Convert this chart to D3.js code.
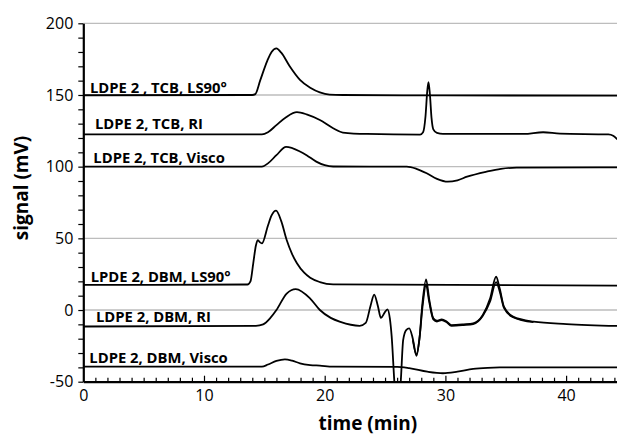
<!DOCTYPE html>
<html>
<head>
<meta charset="utf-8">
<script src="https://cdn.jsdelivr.net/npm/d3@7"></script>
<style>
	body { margin: 0; background: #fff; }
	text { font-family: "Open Sans", sans-serif; fill: #000; }
</style>
</head>
<body>
<div id="chart"></div>
<script>
// traces: [time (min), signal (mV)]
const tcbLS = [[0,149.8],[14.0,150],[14.25,150.6],[14.65,160],[15.25,174],[15.6,180],[16.0,182.5],[16.4,179.5],[17.1,170],[17.95,160.5],[18.8,155],[19.6,151.8],[20.4,150.3],[21.5,150],[30,149.7],[44.25,149.5]];
const tcbRI = [[0,122.5],[14.8,122.5],[15.3,124],[16.0,129],[16.8,134.5],[17.7,138],[18.5,136.5],[19.6,132.5],[20.7,126.8],[21.5,123.8],[23.5,122.8],[27.9,122.4],[28.15,124],[28.35,135],[28.5,153],[28.6,159],[28.72,150],[28.85,134],[29.0,126],[29.3,123.5],[29.8,122.8],[36.5,122.8],[38.1,124],[39.5,123],[43.5,122.5],[43.9,121.5],[44.25,119]];
const tcbVisco = [[0,100],[14.8,100],[15.3,102.3],[16.0,108],[16.8,113.8],[17.95,110.6],[18.5,108],[19.3,103.5],[20.0,101],[20.7,100.1],[26.8,100],[27.6,98.5],[28.45,95.4],[29.3,91.5],[30.2,89.5],[31.0,90.5],[31.8,93],[33.4,96.5],[34.6,98.5],[35.9,99.3],[44.25,99.5]];
const dbmLS = [[0,17.5],[13.6,17.8],[13.85,20],[14.08,32.6],[14.3,45],[14.45,48.8],[14.6,47.5],[14.8,46.5],[15.3,59],[15.6,66],[15.97,69.3],[16.4,62],[16.85,48.8],[17.3,39],[17.7,32.6],[18.3,26],[18.8,22.5],[19.6,19.5],[20.7,17.9],[44.25,17]];
const dbmRI = [[0,-11.5],[14.3,-11],[14.9,-10],[15.5,-5.5],[16.0,0],[16.85,11.5],[17.6,14.6],[18.8,8],[19.6,0],[20.5,-5.5],[21.3,-8.3],[22.9,-11],[23.4,-9],[23.8,3],[24.1,10.8],[24.4,3],[24.66,-5.5],[24.95,-2],[25.2,0.5],[25.4,-6],[25.55,-18.6],[25.77,-50],[26.0,-75],[26.3,-50],[26.5,-21],[26.75,-14],[27.0,-12.8],[27.3,-20],[27.6,-32],[27.85,-20],[28.1,5],[28.4,21.4],[28.65,8],[29.0,-5.8],[29.3,-7.5],[29.7,-6.5],[30.1,-8],[30.5,-10.5],[31.5,-10],[32.3,-9.3],[33.1,-3.5],[33.7,8],[34.2,23.2],[34.5,15],[34.85,2.3],[35.6,-4.6],[37.3,-8.1],[40.05,-9.8],[44.25,-11.1]];
const dbmRI2 = [[27.3,-21],[27.6,-31],[27.85,-20],[28.1,2],[28.4,17.5],[28.65,6],[29.0,-6.5],[29.3,-8],[29.7,-7],[30.1,-8.5],[30.5,-11],[31.5,-10.5],[32.3,-9.8],[33.1,-4],[33.7,6],[34.2,19.5],[34.5,13],[34.85,1.5],[35.6,-5],[37.3,-8.5]];
const dbmVisco = [[0,-39.5],[14.8,-39.5],[15.3,-38],[16.0,-35.5],[16.7,-34.4],[17.3,-35.3],[17.95,-37.2],[18.8,-38.4],[19.6,-38.8],[20.7,-39.5],[26.0,-39.6],[27.0,-40.5],[28.5,-43],[29.8,-44.1],[31.0,-43],[32.3,-41.1],[33.5,-40.3],[34.5,-40],[44.25,-40]];

const seriesNames = ["LDPE 2 , TCB, LS90°", "LDPE 2, TCB, RI", "LDPE 2, TCB, Visco", "LPDE 2, DBM, LS90°", "LDPE 2, DBM, RI", "LDPE 2, DBM, Visco"];
const yTicks = [-50, 0, 50, 100, 150, 200];
const xTicks = [0, 10, 20, 30, 40];

// where each name sits, in data units
const labelPos = [[0.55,151.7],[0.97,126.1],[0.83,102.3],[0.61,19.8],[1.05,-8.1],[0.5,-37.2]];

const width = 617, height = 436;
const svg = d3.select("#chart").append("svg").attr("width", width).attr("height", height);

const x = d3.scaleLinear().domain([0, 44.25]).range([83.3, 617.4]);
const y = d3.scaleLinear().domain([-50, 200]).range([381.7, 23.3]);

// gridlines
svg.append("g").selectAll("line")
	.data(yTicks.filter(d => d > -50))
	.join("line")
	.attr("x1", x(0)).attr("x2", width)
	.attr("y1", d => y(d)).attr("y2", d => y(d))
	.attr("stroke", "#bdbdbd").attr("stroke-width", 1.3);

svg.append("clipPath").attr("id", "plot")
	.append("rect").attr("x", x(0)).attr("y", 0).attr("width", width - x(0)).attr("height", y(-50));

const line = d3.line().x(d => x(d[0])).y(d => y(d[1])).curve(d3.curveMonotoneX);

svg.append("g").attr("clip-path", "url(#plot)").selectAll("path")
	.data([tcbLS, tcbRI, tcbVisco, dbmLS, dbmRI, dbmRI2, dbmVisco])
	.join("path")
	.attr("d", line)
	.attr("fill", "none").attr("stroke", "#000").attr("stroke-width", 1.8)
	.attr("stroke-linejoin", "round");

// y axis: labels + minor ticks every 10
const yAxis = svg.append("g").attr("transform", `translate(${x(0)},0)`)
	.call(d3.axisLeft(y).tickValues(yTicks).tickSize(0).tickPadding(10).tickFormat(d => String(d)));
svg.append("g").attr("transform", `translate(${x(0)},0)`)
	.call(d3.axisLeft(y).tickValues(d3.range(-50, 201, 10)).tickSize(5).tickFormat(""))
	.call(g => g.select(".domain").remove());
yAxis.selectAll("text").style("font-size", "16px").attr("fill", "#000");

// x axis: labels + inner ticks every minute
const xAxis = svg.append("g").attr("transform", `translate(0,${y(-50)})`)
	.call(d3.axisBottom(x).tickValues(xTicks).tickSize(0).tickPadding(8).tickFormat(d => String(d)));
svg.append("g").attr("transform", `translate(0,${y(-50)})`)
	.call(d3.axisBottom(x).tickValues(d3.range(1, 45, 1)).tickSize(-4).tickFormat(""))
	.call(g => g.select(".domain").remove())
	.selectAll(".tick line").attr("y2", d => d % 10 === 0 ? -6 : -4);
xAxis.selectAll("text").style("font-size", "16px").attr("fill", "#000");

svg.selectAll(".domain").attr("stroke", "#000").attr("stroke-width", 2.2);
svg.selectAll(".tick line").attr("stroke", "#000").attr("stroke-width", 1.2);

// trace names
svg.append("g").selectAll("text")
	.data(seriesNames)
	.join("text")
	.attr("x", (d, i) => x(labelPos[i][0]))
	.attr("y", (d, i) => y(labelPos[i][1]))
	.style("font-size", "14.8px").style("font-weight", "bold")
	.text(d => d);

svg.append("text")
	.attr("x", 367.8).attr("y", 430)
	.attr("text-anchor", "middle")
	.style("font-size", "19px").style("font-weight", "bold")
	.text("time (min)");

svg.append("text")
	.attr("transform", "translate(28,188) rotate(-90)")
	.attr("text-anchor", "middle")
	.style("font-size", "19px").style("font-weight", "bold")
	.text("signal (mV)");
</script>
</body>
</html>
